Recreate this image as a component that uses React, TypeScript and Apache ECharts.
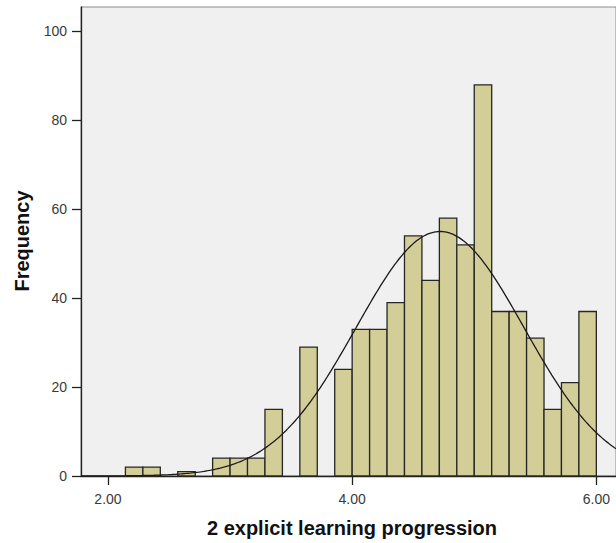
import React, { useEffect, useRef } from "react";
import * as echarts from "echarts";

// Histogram bins: each bin is 1/7 wide, the first drawn bin starts at 2 + 1/7
const BIN_START = 2 + 1 / 7;
const BIN_WIDTH = 1 / 7;
const binCounts = [
  2, 2, 0, 1, 0, 4, 4, 4, 15, 0, 29, 0, 24, 33, 33, 39, 54, 44, 58, 52, 88, 37,
  37, 31, 15, 21, 37,
];

// Fitted normal curve parameters
const MEAN = 4.72;
const STD_DEV = 0.688;
const N = 664;

const xTicks = [2, 4, 6];
const yTicks = [0, 20, 40, 60, 80, 100];

const X_MIN = 1.779;
const X_MAX = 6.161;
const Y_MAX = 105.5;

const FONT = "'Liberation Sans', Arial, sans-serif";

export default function App() {
  const ref = useRef<HTMLDivElement>(null);

  useEffect(() => {
    if (!ref.current) return;
    const chart = echarts.init(ref.current, undefined, { renderer: "svg" });

    const bars = binCounts
      .map((c, i) => [BIN_START + i * BIN_WIDTH, BIN_START + (i + 1) * BIN_WIDTH, c])
      .filter((d) => d[2] > 0);

    const curve: number[][] = [];
    const steps = 300;
    for (let i = 0; i <= steps; i++) {
      const x = X_MIN + ((X_MAX - X_MIN) * i) / steps;
      const z = (x - MEAN) / STD_DEV;
      const y = (N * BIN_WIDTH * Math.exp(-0.5 * z * z)) / (STD_DEV * Math.sqrt(2 * Math.PI));
      curve.push([x, y]);
    }

    chart.setOption({
      animation: false,
      backgroundColor: "#ffffff",
      grid: {
        left: 81,
        top: 7,
        right: 0,
        bottom: 67,
        show: true,
        backgroundColor: "#F0F0F0",
        borderColor: "#8a8a8a",
        borderWidth: 1,
      },
      xAxis: {
        type: "value",
        min: X_MIN,
        max: X_MAX,
        splitLine: { show: false },
        axisLine: { show: true, lineStyle: { color: "#222", width: 1.3 } },
        axisTick: {
          show: true,
          customValues: xTicks,
          length: 9,
          lineStyle: { color: "#222", width: 1.3 },
        },
        axisLabel: {
          customValues: xTicks,
          formatter: (v: number) => v.toFixed(2),
          fontSize: 14,
          fontFamily: FONT,
          color: "#3a3a3a",
          margin: 16,
        },
      },
      yAxis: {
        type: "value",
        min: 0,
        max: Y_MAX,
        splitLine: { show: false },
        axisLine: { show: true, lineStyle: { color: "#222", width: 1.3 } },
        axisTick: {
          show: true,
          customValues: yTicks,
          length: 9,
          lineStyle: { color: "#222", width: 1.3 },
        },
        axisLabel: {
          customValues: yTicks,
          fontSize: 14,
          fontFamily: FONT,
          color: "#3a3a3a",
          margin: 14,
        },
      },
      graphic: [
        {
          type: "text",
          x: 22,
          y: 241,
          rotation: Math.PI / 2,
          style: {
            text: "Frequency",
            fontSize: 20,
            fontWeight: "bold",
            fontFamily: FONT,
            fill: "#111",
            align: "center",
            verticalAlign: "middle",
          },
        },
        {
          type: "text",
          x: 352,
          y: 528,
          style: {
            text: "2 explicit learning progression",
            fontSize: 20,
            fontWeight: "bold",
            fontFamily: FONT,
            fill: "#111",
            align: "center",
            verticalAlign: "middle",
          },
        },
      ],
      series: [
        {
          type: "custom",
          data: bars,
          encode: { x: [0, 1], y: 2 },
          renderItem: (params: any, api: any) => {
            const p0 = api.coord([api.value(0), 0]);
            const p1 = api.coord([api.value(1), api.value(2)]);
            return {
              type: "rect",
              shape: {
                x: p0[0],
                y: p1[1],
                width: p1[0] - p0[0],
                height: p0[1] - p1[1],
              },
              style: { fill: "#D3CE98", stroke: "#262626", lineWidth: 1.3 },
            };
          },
          z: 2,
        },
        {
          type: "line",
          data: curve,
          showSymbol: false,
          symbol: "none",
          lineStyle: { color: "#1a1a1a", width: 1.3 },
          z: 3,
        },
      ],
    });

    return () => chart.dispose();
  }, []);

  return (
    <div
      ref={ref}
      style={{ position: "fixed", left: 0, top: 0, width: 616, height: 543 }}
    />
  );
}
